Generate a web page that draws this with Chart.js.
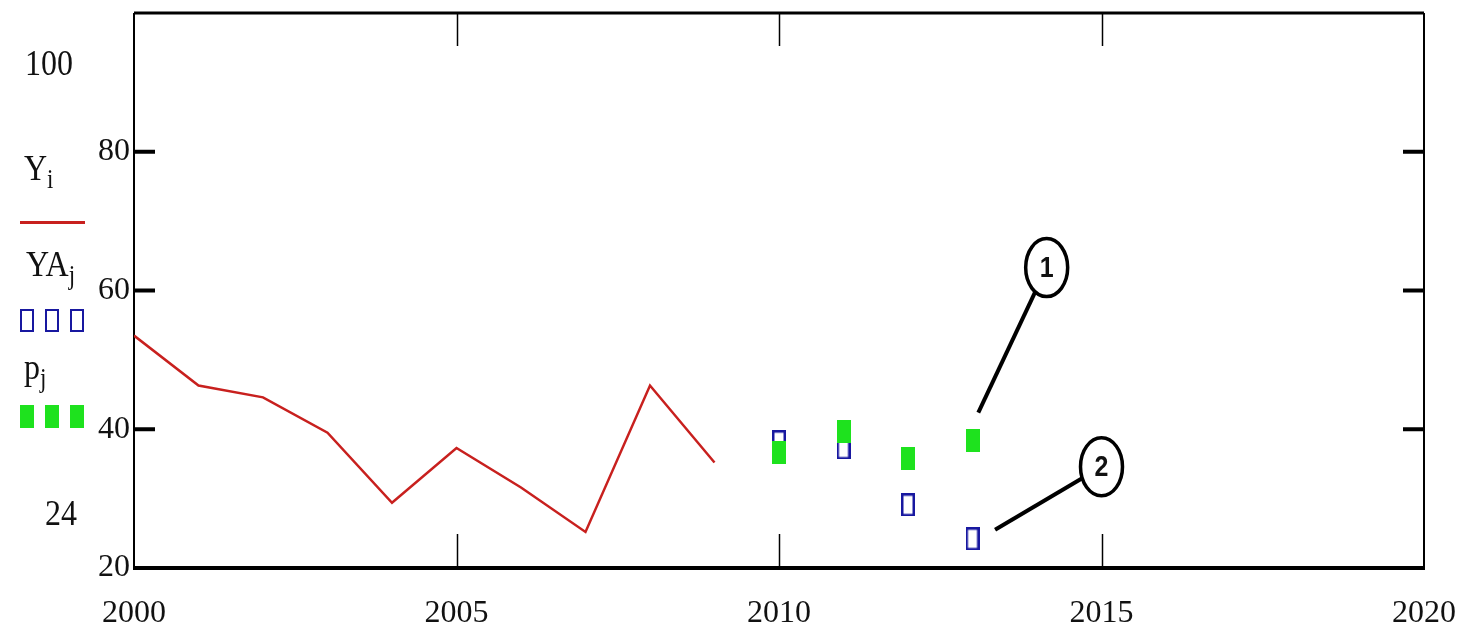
<!DOCTYPE html>
<html>
<head>
<meta charset="utf-8">
<script src="https://cdn.jsdelivr.net/npm/chart.js@4.4.0/dist/chart.umd.min.js"></script>
<style>
  body{margin:0;background:#fff;}
  #wrap{position:relative;width:1474px;height:634px;overflow:hidden;}
  canvas{position:absolute;left:0;top:0;}
  .lbl{position:absolute;font-family:"Liberation Serif",serif;font-size:32px;color:#111;line-height:1;transform:scaleY(1.15);transform-origin:left top;white-space:nowrap;}
  .lbl sub{font-size:23px;vertical-align:-7px;}
  .key{position:absolute;box-sizing:border-box;}
</style>
</head>
<body>
<div id="wrap">
  <canvas id="chart" width="1474" height="634"></canvas>
  <div class="lbl" style="left:25px;top:44px">100</div>
  <div class="lbl" style="left:24px;top:149px">Y<sub>i</sub></div>
  <div class="key" style="left:20px;top:221px;width:65px;height:3px;background:#c8201e"></div>
  <div class="lbl" style="left:26px;top:245px">YA<sub>j</sub></div>
  <div class="key" style="left:20px;top:309px;width:14px;height:23px;border:2.5px solid #1818a0"></div>
  <div class="key" style="left:45px;top:309px;width:14px;height:23px;border:2.5px solid #1818a0"></div>
  <div class="key" style="left:70px;top:309px;width:14px;height:23px;border:2.5px solid #1818a0"></div>
  <div class="lbl" style="left:24px;top:348px">p<sub>j</sub></div>
  <div class="key" style="left:20px;top:405px;width:14px;height:23px;background:#1ee21e"></div>
  <div class="key" style="left:45px;top:405px;width:14px;height:23px;background:#1ee21e"></div>
  <div class="key" style="left:70px;top:405px;width:14px;height:23px;background:#1ee21e"></div>
  <div class="lbl" style="left:45px;top:494px">24</div>
</div>
<script>
// data
const years = [2000, 2001, 2002, 2003, 2004, 2005, 2006, 2007, 2008, 2009];
const yValues = [53.5, 46.3, 44.6, 39.5, 29.4, 37.3, 31.6, 25.2, 46.3, 35.2];
const forecastYears = [2010, 2011, 2012, 2013];
const yaValues = [38.2, 37.3, 29.1, 24.2];
const pValues = [36.6, 39.7, 35.8, 38.4];
const xTicks = [2000, 2005, 2010, 2015, 2020];
const yTicks = [20, 40, 60, 80];

// numbered callouts (data units): circle centre and where the pointer ends
const callouts = [
  { label: '1', cx: 2014.15, cy: 63.3, tx: 2013.09, ty: 42.4 },
  { label: '2', cx: 2015.0, cy: 34.6, tx: 2013.35, ty: 25.5 }
];

const toXY = (xs, ys) => xs.map((x, i) => ({ x: x, y: ys[i] }));

// small rectangular marker images (taller than wide, like the original)
function makeBox(w, h, fill, stroke){
  const c = document.createElement('canvas');
  c.width = w; c.height = h;
  const g = c.getContext('2d');
  if(fill){ g.fillStyle = fill; g.fillRect(0, 0, w, h); }
  if(stroke){ g.strokeStyle = stroke; g.lineWidth = 2.5; g.strokeRect(1.25, 1.25, w - 2.5, h - 2.5); }
  return c;
}
const blueBox = makeBox(14, 23, null, '#1818a0');
const greenBox = makeBox(14, 23, '#1ee21e', null);

// frame, inner ticks and callouts
const mathcadFrame = {
  id: 'mathcadFrame',
  beforeDatasetsDraw(chart){
    const { ctx, chartArea: a, scales: { x, y } } = chart;
    ctx.save();
    ctx.strokeStyle = '#000';
    // inner ticks on x (top and bottom)
    ctx.lineWidth = 1.5;
    xTicks.slice(1, -1).forEach(v => {
      const px = Math.round(x.getPixelForValue(v)) + 0.5;
      ctx.beginPath(); ctx.moveTo(px, a.bottom); ctx.lineTo(px, a.bottom - 34); ctx.stroke();
      ctx.beginPath(); ctx.moveTo(px, a.top); ctx.lineTo(px, a.top + 33); ctx.stroke();
    });
    // inner ticks on y (left and right)
    ctx.lineWidth = 4;
    yTicks.slice(1).forEach(v => {
      const py = y.getPixelForValue(v);
      ctx.beginPath(); ctx.moveTo(a.left, py); ctx.lineTo(a.left + 21, py); ctx.stroke();
      ctx.beginPath(); ctx.moveTo(a.right, py); ctx.lineTo(a.right - 21, py); ctx.stroke();
    });
    // box
    ctx.lineWidth = 3;
    ctx.beginPath(); ctx.moveTo(a.left, a.top); ctx.lineTo(a.right, a.top); ctx.stroke();
    ctx.lineWidth = 4;
    ctx.beginPath(); ctx.moveTo(a.left - 1, a.bottom); ctx.lineTo(a.right + 1, a.bottom); ctx.stroke();
    ctx.lineWidth = 2;
    ctx.beginPath(); ctx.moveTo(a.left, a.top); ctx.lineTo(a.left, a.bottom); ctx.stroke();
    ctx.beginPath(); ctx.moveTo(a.right, a.top); ctx.lineTo(a.right, a.bottom); ctx.stroke();
    ctx.restore();
  },
  afterDatasetsDraw(chart){
    const { ctx, scales: { x, y } } = chart;
    const rx = 21, ry = 29;
    ctx.save();
    callouts.forEach(c => {
      const cx = x.getPixelForValue(c.cx), cy = y.getPixelForValue(c.cy);
      const tx = x.getPixelForValue(c.tx), ty = y.getPixelForValue(c.ty);
      const ang = Math.atan2(ty - cy, tx - cx);
      // point on ellipse edge toward the target
      const k = 1 / Math.sqrt(Math.pow(Math.cos(ang) / rx, 2) + Math.pow(Math.sin(ang) / ry, 2));
      ctx.strokeStyle = '#000';
      ctx.lineWidth = 4;
      ctx.beginPath();
      ctx.moveTo(cx + k * Math.cos(ang), cy + k * Math.sin(ang));
      ctx.lineTo(tx, ty);
      ctx.stroke();
      ctx.lineWidth = 3.5;
      ctx.fillStyle = '#fff';
      ctx.beginPath();
      ctx.ellipse(cx, cy, rx, ry, 0, 0, Math.PI * 2);
      ctx.fill(); ctx.stroke();
      ctx.fillStyle = '#111';
      ctx.font = 'bold 25px "Liberation Sans", sans-serif';
      ctx.textAlign = 'center';
      ctx.textBaseline = 'middle';
      ctx.save();
      ctx.translate(cx, cy + 1);
      ctx.scale(1, 1.2);
      ctx.fillText(c.label, 0, 0);
      ctx.restore();
    });
    ctx.restore();
  }
};

const tickFont = { family: '"Liberation Serif", serif', size: 32 };

new Chart(document.getElementById('chart'), {
  type: 'scatter',
  data: {
    datasets: [
      {
        label: 'p',
        data: toXY(forecastYears, pValues),
        pointStyle: greenBox,
        order: 0
      },
      {
        label: 'YA',
        data: toXY(forecastYears, yaValues),
        pointStyle: blueBox,
        order: 1
      },
      {
        label: 'Y',
        data: toXY(years, yValues),
        showLine: true,
        borderColor: '#c8201e',
        borderWidth: 2.5,
        pointRadius: 0,
        order: 2
      }
    ]
  },
  options: {
    responsive: false,
    animation: false,
    devicePixelRatio: 1,
    layout: { padding: { top: 13, right: 50, left: 0, bottom: 0 } },
    plugins: { legend: { display: false }, tooltip: { enabled: false } },
    scales: {
      x: {
        type: 'linear', min: 2000, max: 2020,
        grid: { display: false, drawTicks: false },
        border: { display: false },
        afterBuildTicks: s => { s.ticks = xTicks.map(v => ({ value: v })); },
        afterFit: s => { s.height = 66; s.paddingLeft = 0; s.paddingRight = 0; },
        ticks: { font: tickFont, color: '#111', padding: 26, maxRotation: 0, autoSkip: false,
                 callback: v => String(v) }
      },
      y: {
        min: 20, max: 100,
        grid: { display: false, drawTicks: false },
        border: { display: false },
        afterBuildTicks: s => { s.ticks = yTicks.map(v => ({ value: v })); },
        afterFit: s => { s.width = 134; s.paddingTop = 0; s.paddingBottom = 0; },
        ticks: { font: tickFont, color: '#111', padding: 4, autoSkip: false,
                 callback: v => String(v) }
      }
    }
  },
  plugins: [mathcadFrame]
});
</script>
</body>
</html>
